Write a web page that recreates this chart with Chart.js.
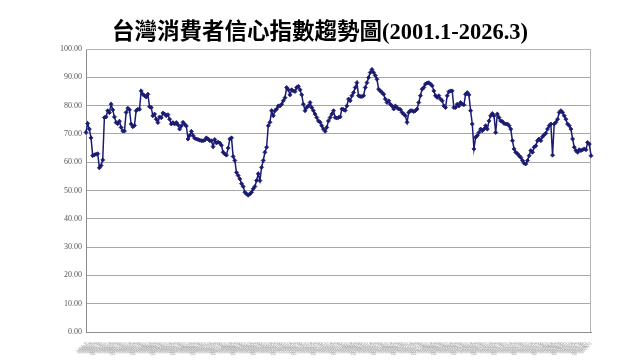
<!DOCTYPE html>
<html>
<head>
<meta charset="utf-8">
<script src="https://cdn.jsdelivr.net/npm/chart.js@4.4.1/dist/chart.umd.min.js"></script>
<style>
  html, body { margin: 0; padding: 0; background: #fff; }
  #wrap { width: 640px; height: 360px; }
</style>
</head>
<body>
<div id="wrap"><canvas id="cci"></canvas></div>
<script>
// 台灣消費者信心指數 (月資料 2001.1 - 2026.3)，數值由圖上讀出
const titleText = '台灣消費者信心指數趨勢圖(2001.1-2026.3)';

const cci2001to2005 = [
  70.5, 73.7, 71.7, 68.6, 62.3, 62.6, 62.8, 63.0, 58.0, 58.8, 60.8, 75.8,
  76.0, 78.2, 77.5, 80.5, 78.5, 76.0, 74.0, 73.6, 74.5, 72.3, 71.0, 71.0,
  77.6, 79.1, 78.5, 73.5, 72.5, 73.0, 78.2, 78.7, 78.7, 85.2, 84.0, 83.5,
  83.0, 84.0, 79.6, 79.3, 76.4, 77.0, 75.2, 74.0, 76.0, 75.7, 77.4, 77.0,
  76.4, 76.8, 75.2, 73.5, 74.0, 73.5, 74.0, 73.2, 71.7, 72.8, 74.1, 73.4
];
const cci2006to2010 = [
  72.8, 68.2, 69.4, 70.9, 69.4, 68.5, 68.2, 68.0, 67.8, 67.6, 67.6, 67.8,
  68.6, 68.2, 67.6, 67.6, 65.5, 68.0, 66.8, 67.1, 66.8, 66.0, 63.5, 62.9,
  62.5, 65.0, 68.2, 68.6, 62.0, 60.6, 56.4, 55.3, 54.1, 52.4, 51.4, 49.4,
  48.8, 48.3, 48.8, 49.4, 50.6, 51.4, 53.5, 55.9, 53.5, 58.2, 60.6, 63.5,
  65.3, 72.9, 74.1, 78.2, 76.4, 78.2, 78.8, 79.9, 79.9, 80.5, 81.7, 82.8
];
const cci2011to2015 = [
  86.4, 85.6, 83.8, 85.6, 85.2, 85.0, 86.4, 86.8, 85.6, 83.8, 80.5, 78.2,
  79.3, 79.9, 81.1, 79.3, 78.2, 77.0, 75.8, 74.6, 74.1, 72.9, 71.7, 70.9,
  72.3, 74.6, 75.8, 77.0, 78.2, 75.8, 75.6, 75.8, 76.0, 78.8, 78.6, 78.3,
  79.9, 82.3, 81.7, 83.5, 84.6, 86.4, 88.1, 83.5, 83.2, 83.2, 83.5, 86.4,
  88.1, 89.9, 91.7, 92.8, 91.7, 90.6, 89.3, 85.8, 85.2, 84.6, 84.0, 82.3
];
const cci2016to2020 = [
  81.1, 81.7, 80.5, 79.9, 78.8, 79.9, 79.3, 78.8, 78.6, 77.6, 77.0, 76.4,
  74.1, 77.6, 78.2, 78.2, 77.9, 78.2, 78.8, 81.1, 83.5, 85.8, 86.4, 87.6,
  88.0, 88.1, 87.6, 87.0, 85.2, 83.5, 82.9, 83.5, 82.3, 81.7, 79.9, 79.3,
  83.5, 84.9, 85.2, 85.2, 79.3, 79.3, 80.5, 79.9, 81.1, 80.5, 80.3, 84.0,
  84.6, 83.8, 78.2, 73.5, 64.7, 68.8, 69.4, 70.5, 71.7, 71.1, 71.7, 72.9
];
const cci2021to2026 = [
  71.7, 74.6, 76.4, 77.2, 76.4, 70.5, 77.0, 75.8, 74.6, 74.4, 73.7, 73.5,
  73.5, 72.9, 71.7, 67.6, 64.7, 63.5, 63.0, 62.3, 61.7, 60.6, 59.6, 59.4,
  60.6, 62.3, 64.1, 63.5, 65.3, 65.8, 67.6, 68.2, 67.6, 69.0, 69.7, 70.2,
  71.7, 72.9, 73.5, 62.5, 73.5, 74.1, 75.2, 77.6, 78.2, 77.6, 76.4, 75.2,
  73.5, 72.9, 71.7, 68.2, 65.3, 64.1, 63.5, 64.4, 64.1, 64.4, 64.7, 64.4,
  67.0, 66.4, 62.3
];

// y 軸刻度
const yMin = 0;
const yMax = 100;
const yStep = 10;

// x 軸分類 (年.月)
const categories = [];
for (let y = 2001; y <= 2026; y++) {
  for (let m = 1; m <= 12; m++) {
    if (y === 2026 && m > 3) break;
    categories.push(`${y}.${m}`);
  }
}

const values = [].concat(cci2001to2005, cci2006to2010, cci2011to2015, cci2016to2020, cci2021to2026);

// 外框 (右側與上方細線)
const framePlugin = {
  id: 'frame',
  beforeDatasetsDraw(chart) {
    const { ctx, chartArea: a } = chart;
    ctx.save();
    ctx.strokeStyle = '#b4b4b4';
    ctx.lineWidth = 1;
    ctx.beginPath();
    ctx.moveTo(a.left, a.top + 0.5);
    ctx.lineTo(a.right - 0.5, a.top + 0.5);
    ctx.lineTo(a.right - 0.5, a.bottom);
    ctx.stroke();
    ctx.restore();
  }
};

const NAVY = '#1b1b72';

new Chart(document.getElementById('cci'), {
  type: 'line',
  data: {
    labels: categories,
    datasets: [{
      data: values,
      borderColor: NAVY,
      backgroundColor: NAVY,
      borderWidth: 1.5,
      pointStyle: 'rectRot',
      pointRadius: 2,
      pointBorderWidth: 0.8,
      tension: 0
    }]
  },
  options: {
    responsive: true,
    maintainAspectRatio: false,
    animation: false,
    layout: { padding: 0 },
    plugins: {
      legend: { display: false },
      tooltip: { enabled: false },
      title: {
        display: true,
        text: titleText,
        color: '#000',
        font: { family: "'Liberation Serif', 'Noto Sans CJK TC', serif", size: 22.5, weight: 'bold' },
        padding: { top: 20, bottom: 2 }
      }
    },
    scales: {
      x: {
        grid: { display: false },
        border: { color: '#8c8c8c' },
        afterFit(scale) { scale.height = 28; },
        ticks: {
          autoSkip: false,
          maxRotation: 45,
          minRotation: 45,
          padding: 1,
          color: '#a8a8a8',
          font: { family: "'Liberation Serif', serif", size: 5 }
        }
      },
      y: {
        min: yMin,
        max: yMax,
        afterFit(scale) { scale.width = 86; },
        grid: { color: '#a8a8a8', lineWidth: 1, drawTicks: false },
        border: { color: '#8c8c8c' },
        ticks: {
          stepSize: yStep,
          padding: 4,
          color: '#555',
          font: { family: "'Liberation Serif', serif", size: 8 },
          callback: v => v.toFixed(2)
        }
      },
      // 右側留白用的空軸
      yRight: {
        position: 'right',
        min: yMin,
        max: yMax,
        afterFit(scale) { scale.width = 49; },
        grid: { display: false },
        border: { display: false },
        ticks: { display: false }
      }
    }
  },
  plugins: [framePlugin]
});
</script>
</body>
</html>
